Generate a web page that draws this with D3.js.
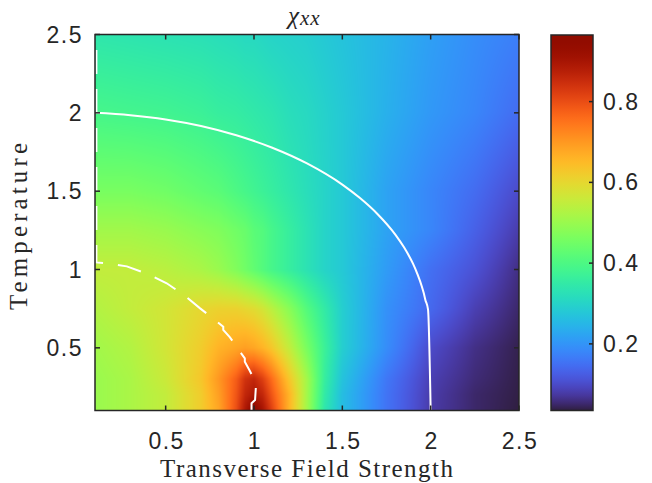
<!DOCTYPE html>
<html>
<head>
<meta charset="utf-8">
<script src="https://cdn.jsdelivr.net/npm/d3@7"></script>
<style>
  body { margin: 0; background: #ffffff; }
  svg { display: block; }
</style>
</head>
<body>
<div id="plot"></div>
<script>
// Grid of transverse field values (columns) and temperatures (rows)
var fieldValues = [0.1, 0.3, 0.5, 0.7, 0.8, 0.9, 0.95, 1.0, 1.05, 1.1, 1.2, 1.3, 1.4, 1.5, 1.75, 2.0, 2.25, 2.5];
var tempValues = [0.1, 0.2, 0.3, 0.5, 0.75, 1.0, 1.25, 1.5, 2.0, 2.5];

// chi_xx, one row per temperature
var chiT010 = [0.50, 0.52, 0.55, 0.62, 0.68, 0.80, 0.89, 0.96, 0.90, 0.82, 0.66, 0.51, 0.34, 0.26, 0.155, 0.078, 0.05, 0.035];
var chiT020 = [0.50, 0.52, 0.55, 0.62, 0.69, 0.79, 0.86, 0.89, 0.86, 0.79, 0.66, 0.51, 0.35, 0.26, 0.155, 0.08, 0.05, 0.037];
var chiT030 = [0.50, 0.52, 0.56, 0.63, 0.70, 0.78, 0.84, 0.86, 0.82, 0.76, 0.63, 0.51, 0.36, 0.27, 0.16, 0.085, 0.055, 0.038];
var chiT050 = [0.51, 0.53, 0.57, 0.62, 0.66, 0.68, 0.69, 0.68, 0.66, 0.63, 0.55, 0.46, 0.37, 0.29, 0.19, 0.10, 0.062, 0.04];
var chiT075 = [0.53, 0.55, 0.57, 0.60, 0.61, 0.61, 0.60, 0.59, 0.57, 0.54, 0.48, 0.41, 0.35, 0.29, 0.195, 0.14, 0.085, 0.05];
var chiT100 = [0.55, 0.55, 0.54, 0.52, 0.50, 0.47, 0.45, 0.43, 0.41, 0.39, 0.36, 0.33, 0.30, 0.28, 0.21, 0.15, 0.11, 0.06];
var chiT125 = [0.51, 0.51, 0.50, 0.48, 0.47, 0.45, 0.44, 0.42, 0.41, 0.39, 0.36, 0.33, 0.30, 0.28, 0.22, 0.18, 0.13, 0.08];
var chiT150 = [0.46, 0.46, 0.45, 0.43, 0.42, 0.40, 0.39, 0.38, 0.37, 0.36, 0.34, 0.32, 0.30, 0.28, 0.22, 0.18, 0.145, 0.10];
var chiT200 = [0.39, 0.385, 0.38, 0.37, 0.36, 0.355, 0.35, 0.345, 0.34, 0.335, 0.32, 0.31, 0.295, 0.28, 0.24, 0.205, 0.18, 0.145];
var chiT250 = [0.34, 0.335, 0.33, 0.325, 0.32, 0.315, 0.31, 0.31, 0.305, 0.30, 0.295, 0.29, 0.28, 0.27, 0.245, 0.215, 0.19, 0.17];
var chiRows = [chiT010, chiT020, chiT030, chiT050, chiT075, chiT100, chiT125, chiT150, chiT200, chiT250];

// Solid white boundary
var solidField = [0.1, 0.3, 0.5, 0.7, 0.9, 1.1, 1.3, 1.5, 1.6, 1.7, 1.8, 1.85, 1.9, 1.925, 1.95, 1.96, 1.97, 1.985, 2.0];
var solidTemp = [2.0, 1.985, 1.958, 1.916, 1.857, 1.779, 1.677, 1.542, 1.456, 1.353, 1.223, 1.14, 1.037, 0.971, 0.892, 0.853, 0.806, 0.745, 0.1];

// Dashed white boundary (from the bottom up)
var dashField = [0.986, 0.986, 1.006, 1.011, 1.0, 0.976, 0.948, 0.948, 0.916, 0.864, 0.826, 0.826, 0.779, 0.695, 0.6, 0.506, 0.4, 0.28, 0.2, 0.108, 0.108];
var dashTemp = [0.1, 0.146, 0.167, 0.256, 0.3, 0.354, 0.411, 0.433, 0.482, 0.567, 0.614, 0.635, 0.678, 0.752, 0.84, 0.912, 0.97, 1.02, 1.035, 1.045, 2.5];

var xTicks = [0.5, 1, 1.5, 2, 2.5];
var yTicks = [0.5, 1, 1.5, 2, 2.5];
var cbarTicks = [0.2, 0.4, 0.6, 0.8];
var cbarRange = [0.035, 0.965];

var ink = "#262626";
var W = 652, H = 483;
var plotLeft = 95, plotRight = 519, plotTop = 34.5, plotBottom = 410.5;

var svg = d3.select("#plot").append("svg")
    .attr("width", W)
    .attr("height", H);

var x = d3.scaleLinear().domain([0.1, 2.5]).range([plotLeft, plotRight]);
var y = d3.scaleLinear().domain([0.1, 2.5]).range([plotBottom, plotTop]);

// turbo, nudged so the low end is purple like the original
var color = d3.scaleSequential(function(t) {
    return d3.interpolateTurbo(0.012 + 0.988 * t);
}).domain(cbarRange);

function findCell(arr, v) {
    var i = d3.bisectRight(arr, v) - 1;
    if (i < 0) i = 0;
    if (i > arr.length - 2) i = arr.length - 2;
    var f = (v - arr[i]) / (arr[i + 1] - arr[i]);
    f = Math.max(0, Math.min(1, f));
    return [i, f];
}

// shaded value between grid nodes (like shading interp)
function chiAt(h, T) {
    var ci = findCell(fieldValues, h);
    var rj = findCell(tempValues, T);
    var i = ci[0], fx = ci[1], j = rj[0], fy = rj[1];
    var a = chiRows[j][i], b = chiRows[j][i + 1];
    var c = chiRows[j + 1][i], d = chiRows[j + 1][i + 1];
    var lo = a + (b - a) * fx;
    var hi = c + (d - c) * fx;
    return lo + (hi - lo) * fy;
}

// Draw the heat map on a canvas and drop it in as an image
var pw = Math.round(plotRight - plotLeft), ph = Math.round(plotBottom - plotTop);
var canvas = document.createElement("canvas");
canvas.width = pw;
canvas.height = ph;
var ctx = canvas.getContext("2d");
var img = ctx.createImageData(pw, ph);
for (var py = 0; py < ph; py++) {
    var T = y.invert(plotTop + py + 0.5);
    for (var px = 0; px < pw; px++) {
        var h = x.invert(plotLeft + px + 0.5);
        var c = d3.rgb(color(chiAt(h, T)));
        var k = (py * pw + px) * 4;
        img.data[k] = c.r;
        img.data[k + 1] = c.g;
        img.data[k + 2] = c.b;
        img.data[k + 3] = 255;
    }
}
ctx.putImageData(img, 0, 0);

svg.append("image")
    .attr("x", plotLeft)
    .attr("y", plotTop)
    .attr("width", pw)
    .attr("height", ph)
    .attr("preserveAspectRatio", "none")
    .attr("href", canvas.toDataURL());

// Boundaries
var solidPts = solidField.map(function(v, i) { return [v, solidTemp[i]]; });
var dashPts = dashField.map(function(v, i) { return [v, dashTemp[i]]; });

svg.append("path")
    .attr("d", d3.line()
        .x(function(d) { return x(d[0]); })
        .y(function(d) { return y(d[1]); })
        .curve(d3.curveMonotoneX)(solidPts))
    .attr("fill", "none")
    .attr("stroke", "#ffffff")
    .attr("stroke-width", 2);

svg.append("path")
    .attr("d", d3.line()
        .x(function(d) { return x(d[0]); })
        .y(function(d) { return y(d[1]); })(dashPts))
    .attr("fill", "none")
    .attr("stroke", "#ffffff")
    .attr("stroke-width", 2)
    .attr("stroke-dasharray", "24,15");

// Axes box with inward ticks on every side
var tickLen = 5;
var axes = svg.append("g")
    .attr("stroke", ink)
    .attr("stroke-width", 1.5)
    .attr("fill", "none");

axes.append("rect")
    .attr("x", plotLeft)
    .attr("y", plotTop)
    .attr("width", plotRight - plotLeft)
    .attr("height", plotBottom - plotTop);

xTicks.forEach(function(t) {
    axes.append("line").attr("x1", x(t)).attr("x2", x(t)).attr("y1", plotBottom).attr("y2", plotBottom - tickLen);
    axes.append("line").attr("x1", x(t)).attr("x2", x(t)).attr("y1", plotTop).attr("y2", plotTop + tickLen);
});
yTicks.forEach(function(t) {
    axes.append("line").attr("x1", plotLeft).attr("x2", plotLeft + tickLen).attr("y1", y(t)).attr("y2", y(t));
    axes.append("line").attr("x1", plotRight).attr("x2", plotRight - tickLen).attr("y1", y(t)).attr("y2", y(t));
});

var tickFont = "'Liberation Sans', Arial, Helvetica, sans-serif";

svg.selectAll(".xlab")
    .data(xTicks)
    .enter()
    .append("text")
    .attr("class", "xlab")
    .attr("x", function(d) { return x(d) + 1; })
    .attr("y", 449)
    .attr("text-anchor", "middle")
    .style("font-family", tickFont)
    .style("font-size", "23px")
    .style("letter-spacing", "1.5px")
    .style("fill", ink)
    .text(function(d) { return d; });

svg.selectAll(".ylab")
    .data(yTicks)
    .enter()
    .append("text")
    .attr("class", "ylab")
    .attr("x", 83)
    .attr("y", function(d) { return y(d) + 8; })
    .attr("text-anchor", "end")
    .style("font-family", tickFont)
    .style("font-size", "23px")
    .style("letter-spacing", "1.5px")
    .style("fill", ink)
    .text(function(d) { return d; });

// Title
var title = svg.append("text")
    .attr("x", 288)
    .attr("y", 24)
    .style("font-family", "'Liberation Serif', 'DejaVu Serif', serif")
    .style("font-style", "italic")
    .style("fill", ink);
title.append("tspan").style("font-size", "25px").text("χ");
title.append("tspan").attr("dx", 1).attr("dy", 1).style("font-size", "21px").style("letter-spacing", "1px").text("xx");

// Axis labels
var serif = "'Liberation Serif', 'Times New Roman', serif";
svg.append("text")
    .attr("x", 160)
    .attr("y", 477)
    .attr("textLength", 293)
    .attr("lengthAdjust", "spacing")
    .style("font-family", serif)
    .style("font-size", "25px")
    .style("fill", ink)
    .text("Transverse Field Strength");

svg.append("text")
    .attr("transform", "translate(27,310) rotate(-90)")
    .attr("x", 0)
    .attr("y", 0)
    .attr("textLength", 167)
    .attr("lengthAdjust", "spacing")
    .style("font-family", serif)
    .style("font-size", "25px")
    .style("fill", ink)
    .text("Temperature");

// Colorbar
var cbLeft = 551, cbRight = 593;
var cbY = d3.scaleLinear().domain(cbarRange).range([plotBottom, 35]);

var grad = svg.append("defs").append("linearGradient")
    .attr("id", "cbgrad")
    .attr("x1", 0).attr("y1", 1)
    .attr("x2", 0).attr("y2", 0);
d3.range(0, 1.0001, 0.02).forEach(function(s) {
    var v = cbarRange[0] + s * (cbarRange[1] - cbarRange[0]);
    grad.append("stop")
        .attr("offset", s)
        .attr("stop-color", color(v));
});

svg.append("rect")
    .attr("x", cbLeft)
    .attr("y", 35)
    .attr("width", cbRight - cbLeft)
    .attr("height", plotBottom - 35)
    .attr("fill", "url(#cbgrad)")
    .attr("stroke", ink)
    .attr("stroke-width", 1.5);

cbarTicks.forEach(function(t) {
    svg.append("line")
        .attr("x1", cbRight).attr("x2", cbRight - 4)
        .attr("y1", cbY(t)).attr("y2", cbY(t))
        .attr("stroke", ink)
        .attr("stroke-width", 1.5);
});

svg.selectAll(".cblab")
    .data(cbarTicks)
    .enter()
    .append("text")
    .attr("class", "cblab")
    .attr("x", 603)
    .attr("y", function(d) { return cbY(d) + 8; })
    .style("font-family", tickFont)
    .style("font-size", "23px")
    .style("letter-spacing", "1.5px")
    .style("fill", ink)
    .text(function(d) { return d; });
</script>
</body>
</html>
